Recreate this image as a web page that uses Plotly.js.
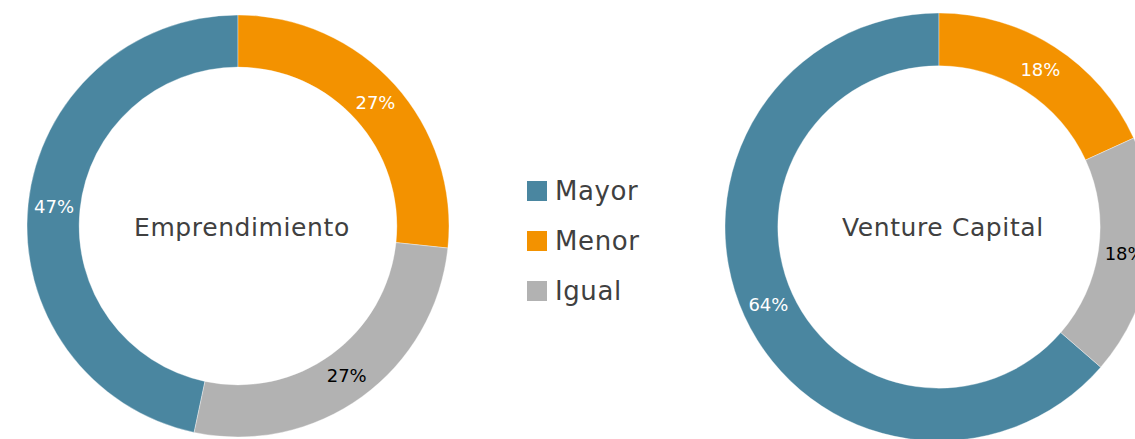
<!DOCTYPE html>
<html>
<head>
<meta charset="utf-8">
<script src="https://cdn.plot.ly/plotly-3.0.1.min.js"></script>
<style>
  html, body { margin: 0; padding: 0; overflow: hidden; background: #fff; }
  #chart { width: 1160px; height: 450px; }
  .annotation-text { letter-spacing: 0.6px; }
</style>
</head>
<body>
<div id="chart"></div>
<script>
// ---- data ----
const categories = ["Mayor", "Menor", "Igual"];
const emprendimientoValues = [7, 4, 4];
const ventureCapitalValues = [7, 2, 2];
const chartTitles = ["Emprendimiento", "Venture Capital"];
const colors = ["#4A86A0", "#F39200", "#B2B2B2"];
const textColors = ["#FFFFFF", "#FFFFFF", "#000000"];

// ---- layout helpers (pixels -> paper) ----
const W = 1160, H = 450;
const FONT = "'DejaVu Sans', 'Noto Sans', sans-serif";
function dom(cx, cy, r) {
  return {
    x: [(cx - r) / W, (cx + r) / W],
    y: [(H - (cy + r)) / H, (H - (cy - r)) / H]
  };
}
function rot(values) {
  const tot = values.reduce((a, b) => a + b, 0);
  return -360 * values[0] / tot;
}
function pie(values, domain) {
  return {
    type: "pie",
    labels: categories,
    values: values,
    sort: false,
    direction: "clockwise",
    rotation: rot(values),
    hole: 0.753,
    domain: domain,
    marker: { colors: colors, line: { color: "rgba(255,255,255,0.6)", width: 0.6 } },
    texttemplate: "%{percent:.0%}",
    textposition: "inside",
    insidetextorientation: "horizontal",
    insidetextfont: { family: FONT, size: 18, color: textColors },
    showlegend: false,
    hoverinfo: "label+percent"
  };
}

const centers = [[238, 226, 211], [939, 227, 214]];
const data = [
  pie(emprendimientoValues, dom(...centers[0])),
  pie(ventureCapitalValues, dom(...centers[1]))
];

const shapes = [], annotations = [];

// centre titles
chartTitles.forEach((t, i) => {
  annotations.push({
    xref: "paper", yref: "paper",
    x: (centers[i][0] + 4) / W, y: (H - 228) / H,
    xanchor: "center", yanchor: "middle",
    text: t, showarrow: false,
    font: { family: FONT, size: 25, color: "#404040" }
  });
});

// manual legend (larger squares than Plotly's built-in pie legend)
const legX = 527, legY0 = 191, legStep = 50, sq = 20;
categories.forEach((c, i) => {
  const cy = legY0 + i * legStep;
  shapes.push({
    type: "rect", xref: "paper", yref: "paper",
    x0: legX / W, x1: (legX + sq) / W,
    y0: (H - (cy + sq / 2)) / H, y1: (H - (cy - sq / 2)) / H,
    fillcolor: colors[i], line: { width: 0 }
  });
  annotations.push({
    xref: "paper", yref: "paper",
    x: (legX + sq + 6) / W, y: (H - cy) / H,
    xanchor: "left", yanchor: "middle",
    text: c, showarrow: false,
    font: { family: FONT, size: 26, color: "#404040" }
  });
});

const layout = {
  width: W, height: H,
  margin: { l: 0, r: 0, t: 0, b: 0 },
  paper_bgcolor: "#fff",
  plot_bgcolor: "#fff",
  showlegend: false,
  shapes: shapes,
  annotations: annotations
};

Plotly.newPlot("chart", data, layout, { displayModeBar: false, staticPlot: true });
</script>
</body>
</html>
